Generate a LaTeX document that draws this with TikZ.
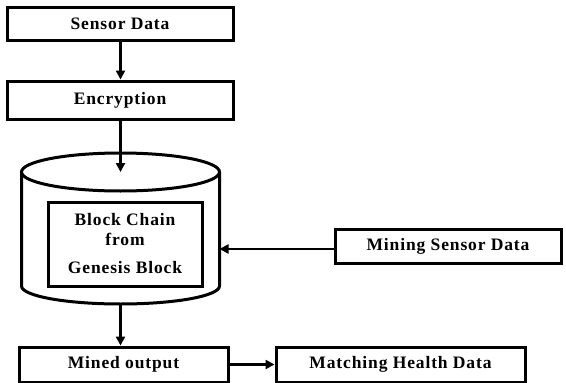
\documentclass[tikz,border=0pt]{standalone}
\usepackage{fontspec}
\setmainfont{Liberation Serif}[LetterSpace=5]
\usepackage{tikz}
\usetikzlibrary{positioning,arrows.meta}
\tikzset{
    box/.style={rectangle,draw=black,line width=3pt,fill=white,inner sep=0pt,font=\bfseries\fontsize{17.5}{20}\selectfont},
    arr/.style={-{Triangle[length=9pt,width=9pt]},line width=2.6pt},
    cyl/.style={line width=3pt},
}
\begin{document}
\begin{tikzpicture}[x=1pt,y=-1pt]
\useasboundingbox (0,0) rectangle (566,383);
\node[box,minimum width=226pt,minimum height=33pt] (sensor) at (120,23.5) {Sensor Data};
\node[box,minimum width=226pt,minimum height=38pt,below=38pt of sensor] (encrypt) {Encryption};

% block chain store
\draw[cyl] (21.5,172) -- (21.5,286) arc[start angle=180,end angle=0,x radius=99,y radius=18] -- (219.5,172);
\draw[cyl,fill=white] (120.5,172) ellipse[x radius=99,y radius=19];
\coordinate (cyltop) at (120.5,172);
\coordinate (cylbot) at (120.5,304);
\coordinate (cylright) at (219.5,249);
\node[box,minimum width=154pt,minimum height=84pt,align=center] (chain) at (125,244)
    {Block Chain\\from\\[8pt]Genesis Block};

\node[box,minimum width=226pt,minimum height=34pt] (mining) at (448,246) {Mining Sensor Data};
\node[box,minimum width=209pt,minimum height=35pt] (mined) at (123.5,364.5) {Mined output};
\node[box,minimum width=249pt,minimum height=35pt,right=45pt of mined] (match) {Matching Health Data};

\draw[arr] (sensor.south-|cyltop) -- (encrypt.north-|cyltop);
\draw[arr] (encrypt.south-|cyltop) -- (cyltop);
\draw[arr] (mining.west|-cylright) -- (cylright);
\draw[arr] (cylbot) -- (cylbot|-mined.north);
\draw[arr] (mined) -- (match);
\end{tikzpicture}
\end{document}
